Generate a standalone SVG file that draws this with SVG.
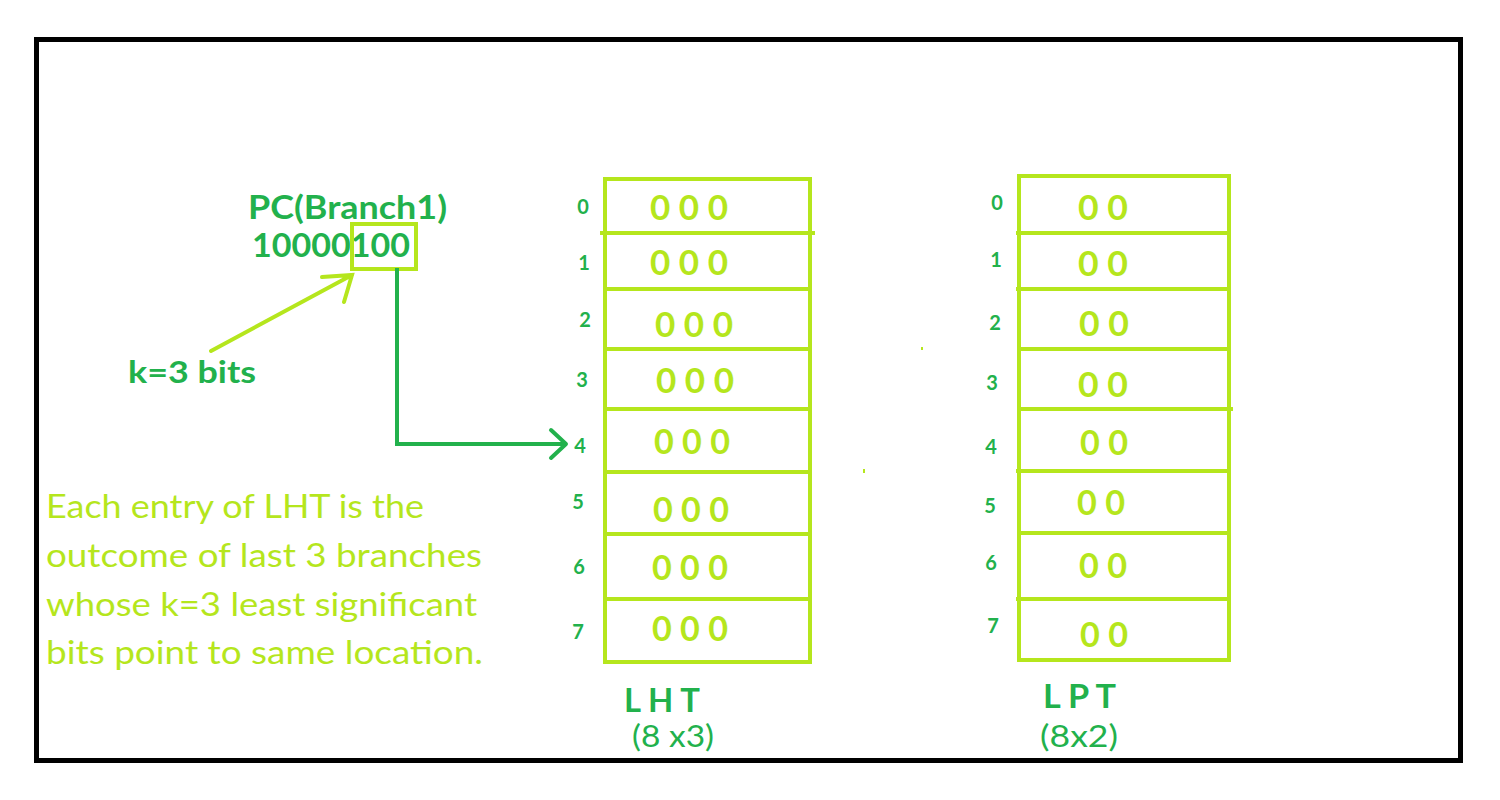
<svg xmlns="http://www.w3.org/2000/svg" width="1500" height="800" viewBox="0 0 1500 800">
<style>
.lime{fill:none;stroke:#b5e61d;stroke-width:4}
.green{fill:none;stroke:#22b14c;stroke-width:4}
.idx{font-family:Lato,"Liberation Sans",sans-serif;font-weight:bold;font-size:20px;fill:#22b14c;text-anchor:middle}
.val{font-family:Lato,"Liberation Sans",sans-serif;font-weight:bold;font-size:35px;fill:#b5e61d}
.title{font-family:Lato,"Liberation Sans",sans-serif;font-weight:bold;fill:#22b14c}
.para{font-family:Lato,"Liberation Sans",sans-serif;font-size:33px;fill:#b5e61d}
.dim{font-family:Lato,"Liberation Sans",sans-serif;font-size:31px;fill:#22b14c}
</style>
<rect x="0" y="0" width="1500" height="800" fill="#fff"/>
<rect x="36.5" y="39.5" width="1424" height="721" fill="none" stroke="#000" stroke-width="5"/>

<g id="pc">
<text class="title" x="248" y="219" font-size="33" textLength="199" lengthAdjust="spacingAndGlyphs">PC(Branch1)</text>
<text class="title" x="252" y="257" font-size="33" textLength="158" lengthAdjust="spacingAndGlyphs">10000100</text>
<rect class="lime" x="352" y="224" width="64" height="45"/>
</g>

<g id="kbits">
<text class="title" x="128" y="383" font-size="30" textLength="128" lengthAdjust="spacingAndGlyphs">k=3 bits</text>
</g>

<g id="note">
<text class="para" x="46" y="518" textLength="378" lengthAdjust="spacingAndGlyphs">Each entry of LHT is the</text>
<text class="para" x="46" y="567" textLength="436" lengthAdjust="spacingAndGlyphs">outcome of last 3 branches</text>
<text class="para" x="46" y="616" textLength="431" lengthAdjust="spacingAndGlyphs">whose k=3 least significant</text>
<text class="para" x="46" y="664" textLength="437" lengthAdjust="spacingAndGlyphs">bits point to same location.</text>
</g>

<g id="lht">
<rect class="lime" x="605" y="179" width="205" height="483"/>
<path class="lime" d="M600 233H815M605 289H810M605 349H810M605 409H810M603 472H810M603 534H812M603 599H812"/>
<text class="idx" x="583" y="214">0</text>
<text class="idx" x="584" y="270">1</text>
<text class="idx" x="585" y="327">2</text>
<text class="idx" x="582" y="387">3</text>
<text class="idx" x="580" y="453">4</text>
<text class="idx" x="578" y="509">5</text>
<text class="idx" x="579" y="574">6</text>
<text class="idx" x="578" y="639">7</text>
<text class="val" x="650" y="220" textLength="78" lengthAdjust="spacingAndGlyphs">0 0 0</text>
<text class="val" x="650" y="275" textLength="78" lengthAdjust="spacingAndGlyphs">0 0 0</text>
<text class="val" x="655" y="337" textLength="78" lengthAdjust="spacingAndGlyphs">0 0 0</text>
<text class="val" x="656" y="393" textLength="78" lengthAdjust="spacingAndGlyphs">0 0 0</text>
<text class="val" x="654" y="454" textLength="76" lengthAdjust="spacingAndGlyphs">0 0 0</text>
<text class="val" x="653" y="522" textLength="76" lengthAdjust="spacingAndGlyphs">0 0 0</text>
<text class="val" x="652" y="580" textLength="76" lengthAdjust="spacingAndGlyphs">0 0 0</text>
<text class="val" x="652" y="641" textLength="76" lengthAdjust="spacingAndGlyphs">0 0 0</text>
<text class="title" x="624" y="712" font-size="32" textLength="76" lengthAdjust="spacingAndGlyphs">L H T</text>
<text class="dim" x="632" y="747" textLength="82" lengthAdjust="spacingAndGlyphs">(8 x3)</text>
</g>

<g id="lpt">
<rect class="lime" x="1019" y="176" width="210" height="484"/>
<path class="lime" d="M1016 233H1229M1016 289H1231M1019 349H1231M1019 409H1233M1016 471H1229M1019 533H1229M1016 599H1231"/>
<text class="idx" x="997" y="210">0</text>
<text class="idx" x="996" y="267">1</text>
<text class="idx" x="995" y="330">2</text>
<text class="idx" x="992" y="390">3</text>
<text class="idx" x="991" y="454">4</text>
<text class="idx" x="990" y="513">5</text>
<text class="idx" x="991" y="570">6</text>
<text class="idx" x="993" y="633">7</text>
<text class="val" x="1078" y="220" textLength="50" lengthAdjust="spacingAndGlyphs">0 0</text>
<text class="val" x="1078" y="276" textLength="50" lengthAdjust="spacingAndGlyphs">0 0</text>
<text class="val" x="1079" y="336" textLength="50" lengthAdjust="spacingAndGlyphs">0 0</text>
<text class="val" x="1078" y="397" textLength="50" lengthAdjust="spacingAndGlyphs">0 0</text>
<text class="val" x="1080" y="455" textLength="48" lengthAdjust="spacingAndGlyphs">0 0</text>
<text class="val" x="1077" y="515" textLength="48" lengthAdjust="spacingAndGlyphs">0 0</text>
<text class="val" x="1079" y="578" textLength="48" lengthAdjust="spacingAndGlyphs">0 0</text>
<text class="val" x="1080" y="647" textLength="48" lengthAdjust="spacingAndGlyphs">0 0</text>
<text class="title" x="1043" y="708" font-size="32" textLength="73" lengthAdjust="spacingAndGlyphs">L P T</text>
<text class="dim" x="1040" y="747" textLength="78" lengthAdjust="spacingAndGlyphs">(8x2)</text>
</g>

<g id="connectors">
<path class="lime" stroke-linecap="round" d="M211 351L352 275M322 277L352 275L344 302"/>
<path class="green" d="M397 268V444H566"/>
<path class="green" stroke-linecap="round" stroke-linejoin="round" d="M551 430L566 444L551 458"/>
</g>

<rect x="921" y="347" width="2" height="3" fill="#b5e61d"/>
<rect x="863" y="469" width="2" height="4" fill="#b5e61d"/>
</svg>
